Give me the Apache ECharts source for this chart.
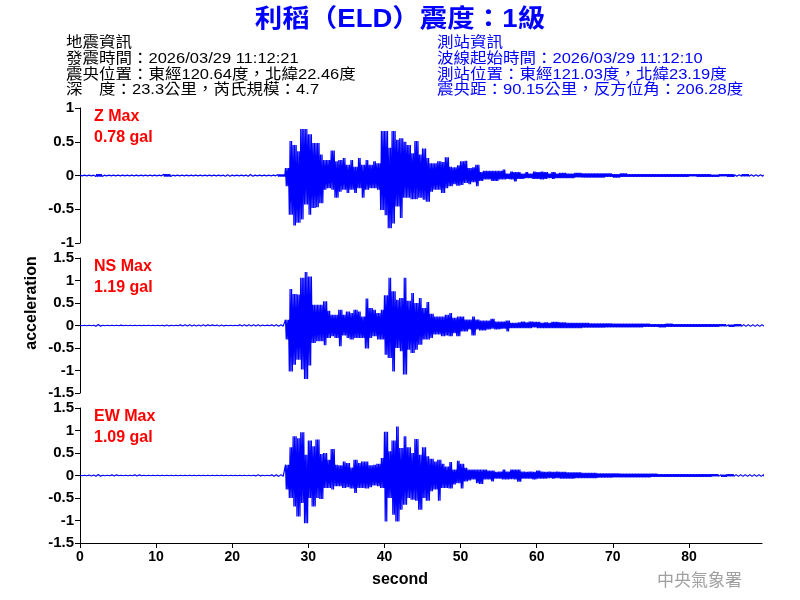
<!DOCTYPE html>
<html><head><meta charset="utf-8">
<script src="https://cdn.jsdelivr.net/npm/echarts@6/dist/echarts.min.js"></script>
<style>html,body{margin:0;padding:0;background:#fff}#c{width:800px;height:600px}</style>
</head><body><div id="c"></div>
<script>
// ---------- data ----------
const xTicks = [0, 10, 20, 30, 40, 50, 60, 70, 80];
const xMax = 89.6;
// envelope bins: pre-event 0..26 (1 s), main 27..62.5 (0.5 s), tail 63..89 (1 s)
const preBins = [0,1,2,3,4,5,6,7,8,9,10,11,12,13,14,15,16,17,18,19,20,21,22,23,24,25,26];
const mainBins = [27,27.5,28,28.5,29,29.5,30,30.5,31,31.5,32,32.5,33,33.5,34,34.5,35,35.5,36,36.5,37,37.5,38,38.5,39,39.5,
  40,40.5,41,41.5,42,42.5,43,43.5,44,44.5,45,45.5,46,46.5,47,47.5,48,48.5,49,49.5,50,50.5,51,51.5,52,52.5,
  53,53.5,54,54.5,55,55.5,56,56.5,57,57.5,58,58.5,59,59.5,60,60.5,61,61.5,62,62.5];
const tailBins = [63,64,65,66,67,68,69,70,71,72,73,74,75,76,77,78,79,80,81,82,83,84,85,86,87,88,89];

// Z component (gal)
const zPreHi = [0.005,0.005,0.02,0.005,0.005,0.005,0.005,0.005,0.005,0.005,0.005,0.02,0.005,0.005,0.005,0.005,0.005,0.005,0.005,0.01,0.005,0.005,0.015,0.005,0.005,0.005,0.015];
const zPreLo = [-0.005,-0.005,-0.015,-0.005,-0.005,-0.005,-0.005,-0.005,-0.005,-0.005,-0.005,-0.015,-0.005,-0.005,-0.005,-0.005,-0.005,-0.005,-0.005,-0.01,-0.005,-0.005,-0.01,-0.005,-0.005,-0.005,-0.015];
const zHi = [0.11,0.51,0.45,0.36,0.69,0.69,0.61,0.48,0.48,0.31,0.23,0.23,0.37,0.21,0.23,0.26,0.16,0.23,0.13,0.26,0.16,0.23,0.16,0.21,0.18,0.66,
  0.66,0.41,0.66,0.53,0.55,0.50,0.45,0.33,0.51,0.31,0.40,0.26,0.18,0.18,0.21,0.20,0.27,0.13,0.12,0.15,0.21,0.22,0.11,0.12,0.16,0.05,
  0.07,0.07,0.07,0.07,0.07,0.09,0.03,0.06,0.05,0.05,0.03,0.05,0.03,0.06,0.05,0.06,0.05,0.03,0.05,0.03];
const zLo = [-0.16,-0.58,-0.74,-0.70,-0.65,-0.43,-0.58,-0.48,-0.47,-0.41,-0.21,-0.19,-0.21,-0.33,-0.24,-0.21,-0.26,-0.21,-0.26,-0.19,-0.33,-0.21,-0.19,-0.19,-0.21,-0.51,
  -0.59,-0.78,-0.71,-0.46,-0.63,-0.33,-0.33,-0.35,-0.35,-0.33,-0.36,-0.39,-0.24,-0.21,-0.21,-0.26,-0.19,-0.16,-0.13,-0.15,-0.14,-0.11,-0.13,-0.10,-0.16,-0.08,
  -0.06,-0.06,-0.08,-0.08,-0.06,-0.06,-0.05,-0.06,-0.09,-0.05,-0.05,-0.04,-0.04,-0.05,-0.05,-0.06,-0.05,-0.04,-0.05,-0.04];
const zTailHi = [0.04,0.03,0.04,0.03,0.03,0.03,0.03,0.02,0.03,0.02,0.02,0.02,0.02,0.02,0.02,0.02,0.02,0.02,0.02,0.02,0.01,0.02,0.02,0.01,0.02,0.01,0.01];
const zTailLo = [-0.04,-0.04,-0.03,-0.03,-0.03,-0.03,-0.02,-0.03,-0.02,-0.02,-0.02,-0.02,-0.02,-0.02,-0.02,-0.02,-0.02,-0.01,-0.02,-0.02,-0.02,-0.01,-0.02,-0.01,-0.01,-0.01,-0.01];

// NS component (gal)
const nsPreHi = [0.005,0.005,0.02,0.005,0.005,0.01,0.005,0.005,0.005,0.005,0.005,0.01,0.005,0.015,0.015,0.01,0.015,0.015,0.01,0.005,0.005,0.015,0.015,0.015,0.01,0.015,0.015];
const nsPreLo = [-0.005,-0.005,-0.015,-0.005,-0.005,-0.005,-0.005,-0.005,-0.005,-0.005,-0.005,-0.01,-0.005,-0.01,-0.01,-0.01,-0.01,-0.005,-0.01,-0.005,-0.005,-0.01,-0.01,-0.01,-0.005,-0.01,-0.015];
const nsHi = [0.13,0.81,0.70,0.69,1.06,1.19,1.09,0.46,0.46,0.46,0.54,0.33,0.24,0.24,0.35,0.24,0.31,0.28,0.35,0.31,0.20,0.60,0.39,0.35,0.28,0.35,
  0.67,1.06,0.76,0.57,0.61,1.06,0.55,0.72,0.50,0.61,0.39,0.52,0.26,0.20,0.20,0.20,0.24,0.28,0.17,0.20,0.20,0.13,0.13,0.20,0.13,0.11,
  0.11,0.11,0.15,0.09,0.09,0.09,0.11,0.06,0.06,0.07,0.09,0.07,0.09,0.08,0.08,0.06,0.07,0.06,0.08,0.08];
const nsLo = [-0.31,-1.02,-0.87,-0.76,-0.98,-1.19,-0.89,-0.39,-0.35,-0.35,-0.44,-0.28,-0.24,-0.28,-0.46,-0.22,-0.28,-0.31,-0.28,-0.28,-0.28,-0.51,-0.28,-0.24,-0.31,-0.31,
  -0.65,-0.72,-1.02,-0.50,-0.57,-1.09,-0.54,-0.61,-0.54,-0.43,-0.31,-0.31,-0.28,-0.20,-0.20,-0.24,-0.22,-0.24,-0.17,-0.24,-0.13,-0.13,-0.09,-0.22,-0.09,-0.11,
  -0.11,-0.09,-0.07,-0.09,-0.08,-0.07,-0.13,-0.06,-0.06,-0.06,-0.06,-0.06,-0.06,-0.04,-0.06,-0.06,-0.06,-0.06,-0.06,-0.06];
const nsTailHi = [0.07,0.06,0.06,0.06,0.05,0.05,0.05,0.04,0.04,0.04,0.04,0.04,0.03,0.03,0.04,0.03,0.03,0.03,0.03,0.03,0.03,0.03,0.02,0.03,0.02,0.02,0.02];
const nsTailLo = [-0.06,-0.06,-0.06,-0.05,-0.05,-0.05,-0.04,-0.04,-0.04,-0.04,-0.04,-0.03,-0.03,-0.04,-0.03,-0.03,-0.03,-0.03,-0.03,-0.03,-0.03,-0.02,-0.03,-0.02,-0.02,-0.02,-0.02];

// EW component (gal)
const ewPreHi = [0.005,0.01,0.02,0.005,0.015,0.005,0.005,0.015,0.005,0.005,0.005,0.005,0.005,0.005,0.005,0.005,0.005,0.005,0.005,0.005,0.005,0.005,0.005,0.015,0.005,0.015,0.02];
const ewPreLo = [-0.005,-0.01,-0.015,-0.005,-0.01,-0.005,-0.005,-0.01,-0.005,-0.005,-0.005,-0.005,-0.005,-0.005,-0.005,-0.005,-0.005,-0.005,-0.005,-0.005,-0.005,-0.005,-0.005,-0.01,-0.005,-0.015,-0.02];
const ewHi = [0.24,0.63,0.87,0.83,0.96,0.46,0.78,0.65,0.80,0.48,0.50,0.35,0.59,0.24,0.23,0.31,0.28,0.18,0.35,0.28,0.31,0.31,0.23,0.24,0.26,0.39,
  0.97,0.54,0.78,1.09,0.61,0.87,0.63,0.50,0.81,0.46,0.63,0.43,0.37,0.31,0.35,0.26,0.20,0.30,0.13,0.33,0.26,0.17,0.13,0.13,0.13,0.13,
  0.13,0.11,0.11,0.08,0.09,0.13,0.09,0.13,0.13,0.13,0.09,0.08,0.09,0.08,0.11,0.09,0.08,0.09,0.08,0.09];
const ewLo = [-0.31,-0.50,-0.69,-0.91,-0.61,-1.06,-0.50,-0.69,-0.50,-0.52,-0.28,-0.28,-0.31,-0.24,-0.24,-0.28,-0.26,-0.29,-0.39,-0.28,-0.28,-0.29,-0.26,-0.22,-0.24,-0.28,
  -1.02,-0.50,-0.87,-1.02,-0.76,-0.65,-0.50,-0.54,-0.56,-0.76,-0.50,-0.56,-0.35,-0.31,-0.56,-0.28,-0.28,-0.29,-0.20,-0.17,-0.29,-0.13,-0.11,-0.09,-0.17,-0.19,
  -0.09,-0.09,-0.13,-0.07,-0.07,-0.09,-0.09,-0.08,-0.09,-0.14,-0.07,-0.07,-0.07,-0.09,-0.07,-0.07,-0.07,-0.06,-0.07,-0.06];
const ewTailHi = [0.08,0.07,0.07,0.06,0.06,0.05,0.05,0.05,0.04,0.04,0.04,0.04,0.04,0.03,0.03,0.03,0.03,0.03,0.03,0.03,0.03,0.02,0.03,0.02,0.02,0.02,0.02];
const ewTailLo = [-0.07,-0.07,-0.06,-0.06,-0.06,-0.05,-0.05,-0.04,-0.04,-0.04,-0.04,-0.04,-0.03,-0.03,-0.03,-0.03,-0.03,-0.03,-0.03,-0.03,-0.02,-0.03,-0.02,-0.02,-0.02,-0.02,-0.02];

const panelNames = ['Z Max', 'NS Max', 'EW Max'];
const panelMax = ['0.78 gal', '1.19 gal', '1.09 gal'];
const yRanges = [[-1, 1], [-1.5, 1.5], [-1.5, 1.5]];

const titleText = '利稻（ELD）震度：1級';
const quakeInfo = ['地震資訊', '發震時間：2026/03/29 11:12:21', '震央位置：東經120.64度，北緯22.46度', '深　度：23.3公里，芮氏規模：4.7'];
const stationInfo = ['測站資訊', '波線起始時間：2026/03/29 11:12:10', '測站位置：東經121.03度，北緯23.19度', '震央距：90.15公里，反方位角：206.28度'];

// ---------- build ----------
// each envelope bin is drawn as dense vertical strokes alternating between its max and min
const STROKE = 0.1;
function build(preHi, preLo, hi, lo, tHi, tLo) {
  const out = [];
  let up = true;
  function segment(bins, width, h, l) {
    const n = Math.round(width / STROKE);
    for (let i = 0; i < bins.length; i++) {
      for (let k = 0; k < n; k++) {
        out.push([bins[i] + k * STROKE, up ? h[i] : l[i]]);
        up = !up;
      }
    }
  }
  segment(preBins, 1, preHi, preLo);
  segment(mainBins, 0.5, hi, lo);
  segment(tailBins, 1, tHi, tLo);
  return out;
}
const seriesData = [
  build(zPreHi, zPreLo, zHi, zLo, zTailHi, zTailLo),
  build(nsPreHi, nsPreLo, nsHi, nsLo, nsTailHi, nsTailLo),
  build(ewPreHi, ewPreLo, ewHi, ewLo, ewTailHi, ewTailLo)
];

const FONT = '"Liberation Sans", Arial, "Noto Sans CJK TC", sans-serif';
const tops = [108, 258, 408];
const grids = tops.map(t => ({ left: 80, top: t, width: 682, height: 135 }));
const xAxes = tops.map((t, i) => ({
  type: 'value', gridIndex: i, min: 0, max: xMax, interval: 10,
  show: i === 2,
  axisLine: { show: true, onZero: false, lineStyle: { color: '#000', width: 1 } },
  axisTick: { show: true, length: 5, lineStyle: { color: '#000' } },
  axisLabel: { show: true, color: '#000', fontFamily: FONT, fontWeight: 'bold', fontSize: 14, margin: 7,
    showMaxLabel: false, formatter: v => (xTicks.indexOf(v) >= 0 ? String(v) : '') },
  splitLine: { show: false }
}));
const yAxes = yRanges.map((r, i) => ({
  type: 'value', gridIndex: i, min: r[0], max: r[1], interval: 0.5,
  axisLine: { show: true, lineStyle: { color: '#000', width: 1 } },
  axisTick: { show: true, length: 5, lineStyle: { color: '#000' } },
  axisLabel: { color: '#000', fontFamily: FONT, fontWeight: 'bold', fontSize: 15, margin: 6 },
  splitLine: { show: false }
}));
const series = seriesData.map((d, i) => ({
  type: 'line', xAxisIndex: i, yAxisIndex: i, data: d,
  symbol: 'none', showSymbol: false, silent: true, animation: false,
  lineStyle: { color: '#0000ff', width: 1.2 }, clip: true
}));

const graphic = [];
graphic.push({ type: 'text', x: 400, y: 20, scaleX: 1.1, style: { text: titleText, fill: '#0000ff', align: 'center', verticalAlign: 'middle',
  font: 'bold 25px ' + FONT } });
const lineYs = [43, 59, 74.5, 90];
quakeInfo.forEach((s, i) => graphic.push({ type: 'text', x: 66, y: lineYs[i], scaleX: 1.1, style: { text: s, fill: '#000', align: 'left', verticalAlign: 'middle', font: '15px ' + FONT } }));
stationInfo.forEach((s, i) => graphic.push({ type: 'text', x: 437, y: lineYs[i], scaleX: 1.1, style: { text: s, fill: '#0000ff', align: 'left', verticalAlign: 'middle', font: '15px ' + FONT } }));
tops.forEach((t, i) => {
  graphic.push({ type: 'text', x: 94, y: t + 9, style: { text: panelNames[i], fill: '#ff0000', align: 'left', verticalAlign: 'middle', font: 'bold 16px ' + FONT } });
  graphic.push({ type: 'text', x: 94, y: t + 30, style: { text: panelMax[i], fill: '#ff0000', align: 'left', verticalAlign: 'middle', font: 'bold 16px ' + FONT } });
});
graphic.push({ type: 'text', x: 32, y: 303, rotation: Math.PI / 2, style: { text: 'acceleration', fill: '#000', align: 'center', verticalAlign: 'middle', font: 'bold 16px ' + FONT } });
graphic.push({ type: 'text', x: 400, y: 580, style: { text: 'second', fill: '#000', align: 'center', verticalAlign: 'middle', font: 'bold 16px ' + FONT } });
graphic.push({ type: 'text', x: 657, y: 580, style: { text: '中央氣象署', fill: '#a0a0a0', align: 'left', verticalAlign: 'middle', font: '17px "Noto Sans CJK TC", sans-serif' } });

const chart = echarts.init(document.getElementById('c'), null, { renderer: 'canvas' });
chart.setOption({
  animation: false,
  backgroundColor: '#fff',
  grid: grids, xAxis: xAxes, yAxis: yAxes, series: series, graphic: graphic
});
</script></body></html>
